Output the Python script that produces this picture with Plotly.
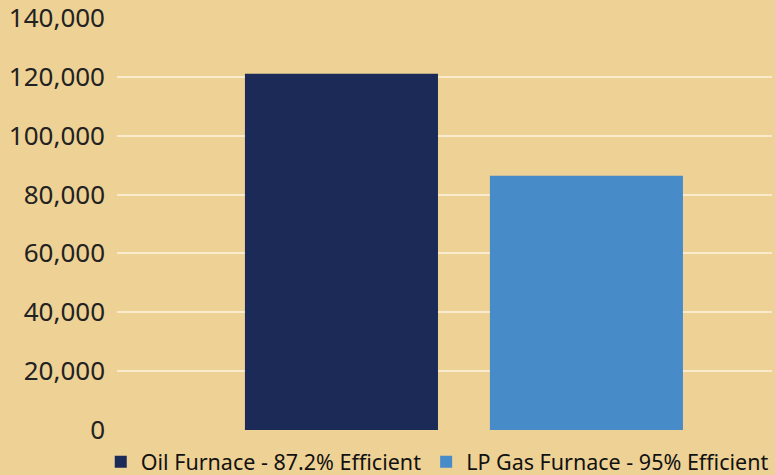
import plotly.graph_objects as go

categories = ["Annual Cost"]
series_names = ["Oil Furnace - 87.2% Efficient", "LP Gas Furnace - 95% Efficient"]
oil_values = [121000]
lp_values = [86400]
y_ticks = [0, 20000, 40000, 60000, 80000, 100000, 120000, 140000]

bg = "#EED195"
fig = go.Figure()
fig.add_trace(go.Bar(x=categories, y=oil_values, name=series_names[0], marker=dict(color="#1B2A56", line=dict(width=0))))
fig.add_trace(go.Bar(x=categories, y=lp_values, name=series_names[1], marker=dict(color="#478BC9", line=dict(width=0))))

fig.update_layout(
    width=775, height=475,
    paper_bgcolor=bg, plot_bgcolor=bg,
    barmode="group", bargap=0.2, bargroupgap=0.212,
    margin=dict(l=117, r=3, t=17, b=45, autoexpand=False),
    font=dict(family="Noto Sans", color="#222222"),
    showlegend=True,
    legend=dict(orientation="h", x=-0.0248, xanchor="left",
                y=-0.027, yanchor="top",
                font=dict(size=21.5, color="#111111"), bgcolor="rgba(0,0,0,0)",
                itemwidth=30, traceorder="normal"),
    xaxis=dict(range=[-0.5665, 0.503], showticklabels=False, showgrid=False, zeroline=False, showline=False, ticks=""),
    yaxis=dict(range=[0, 140300], tickvals=y_ticks, tickformat=",d", automargin=False,
               ticklabeloverflow="allow",
               showgrid=True, gridcolor="#FAEBCF", gridwidth=2, zeroline=False, showline=False,
               tickfont=dict(size=26, color="#222222"), ticklabelstandoff=11),
)
fig.write_html("out.html", config={"displayModeBar": False},
               post_script="document.body.style.margin='0';document.body.style.background='#EED195';")
